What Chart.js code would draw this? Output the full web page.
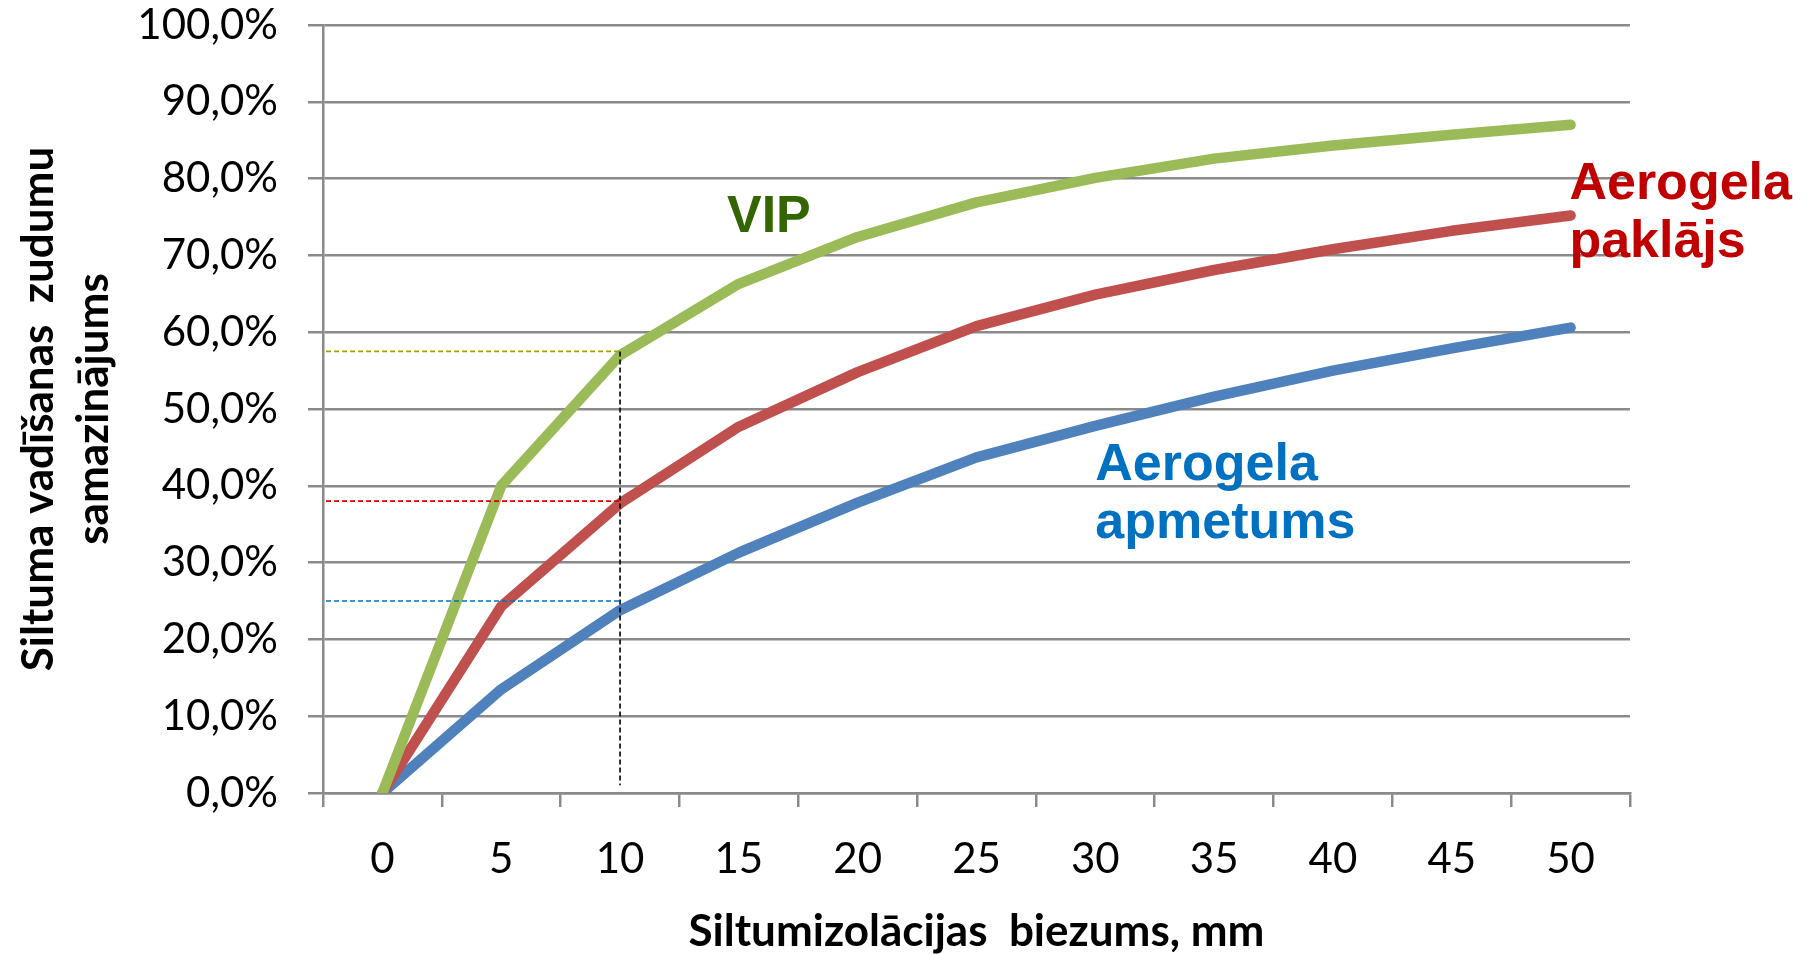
<!DOCTYPE html>
<html>
<head>
<meta charset="utf-8">
<script src="https://cdn.jsdelivr.net/npm/chart.js@4.4.1/dist/chart.umd.min.js"></script>
<style>
  html, body { margin: 0; padding: 0; background: #ffffff; }
  #c { display: block; }
</style>
</head>
<body>
<canvas id="c" width="1814" height="954"></canvas>
<script>
// Insulation thickness, mm
const thickness = ['0', '5', '10', '15', '20', '25', '30', '35', '40', '45', '50'];

// Reduction of heat-conduction losses, %
const vip       = [0, 40.0, 57.0, 66.3, 72.4, 76.9, 80.1, 82.6, 84.3, 85.7, 87.0];
const paklajs   = [0, 24.3, 37.7, 47.7, 54.8, 60.8, 64.9, 68.1, 70.8, 73.2, 75.2];
const apmetums  = [0, 13.5, 23.8, 31.3, 37.8, 43.7, 47.8, 51.6, 55.0, 57.9, 60.6];

// Reference levels marked at 10 mm
const guideCategory = '10';
const guideLevels = [57.5, 38.0, 25.0];
const guideColors = ['#a3a300', '#d80000', '#0070c0'];

const GRID = '#8a8a8a';
const TICK_FONT = { family: 'Lato', size: 42 };
const TITLE_FONT = { family: 'Lato', size: 44, weight: 'bold', lineHeight: 1.0 };

// Series names written beside the curves (x as category index, y in %)
const seriesNotes = [
  { lines: ['VIP'], x: 2.90, y: 73.1, color: '#336600' },
  { lines: ['Aerogela', 'paklājs'], x: 9.99, y: 77.4, color: '#c00000' },
  { lines: ['Aerogela', 'apmetums'], x: 6.0, y: 40.7, color: '#0070c0' }
];

const guidePlugin = {
  id: 'guides',
  afterDatasetsDraw(chart) {
    const { ctx, scales: { x, y } } = chart;
    const gx = x.getPixelForValue(thickness.indexOf(guideCategory));
    ctx.save();
    ctx.lineWidth = 1.6;
    ctx.setLineDash([5, 3]);
    guideLevels.forEach((v, i) => {
      const py = y.getPixelForValue(v);
      ctx.strokeStyle = guideColors[i];
      ctx.beginPath();
      ctx.moveTo(x.left + 3, py);
      ctx.lineTo(gx, py);
      ctx.stroke();
    });
    ctx.strokeStyle = '#000000';
    ctx.beginPath();
    ctx.moveTo(gx, y.getPixelForValue(Math.max(...guideLevels)));
    ctx.lineTo(gx, y.getPixelForValue(1));
    ctx.stroke();
    ctx.restore();
  }
};

const notesPlugin = {
  id: 'notes',
  afterDraw(chart) {
    const { ctx, scales: { x, y } } = chart;
    ctx.save();
    ctx.font = 'bold 52px "Liberation Sans", Arial, sans-serif';
    ctx.textAlign = 'left';
    ctx.textBaseline = 'alphabetic';
    seriesNotes.forEach(n => {
      ctx.fillStyle = n.color;
      const px = x.getPixelForValue(n.x);
      const py = y.getPixelForValue(n.y);
      n.lines.forEach((t, i) => ctx.fillText(t, px, py + i * 58));
    });
    ctx.restore();
  }
};

const lineStyle = {
  borderWidth: 10.5,
  pointRadius: 0,
  pointHoverRadius: 0,
  borderCapStyle: 'round',
  borderJoinStyle: 'round',
  tension: 0,
  fill: false
};

new Chart(document.getElementById('c'), {
  type: 'line',
  data: {
    labels: thickness,
    datasets: [
      { label: 'VIP', data: vip, borderColor: '#9bbb59', ...lineStyle },
      { label: 'Aerogela paklājs', data: paklajs, borderColor: '#c0504d', ...lineStyle },
      { label: 'Aerogela apmetums', data: apmetums, borderColor: '#4f81bd', ...lineStyle }
    ]
  },
  options: {
    responsive: false,
    animation: false,
    devicePixelRatio: 1,
    layout: { padding: { top: 25, right: 184, left: 0, bottom: 0 } },
    plugins: { legend: { display: false }, tooltip: { enabled: false } },
    scales: {
      x: {
        type: 'category',
        offset: true,
        afterFit(scale) {
          scale.height = 161;
          scale.paddingLeft = 0;
          scale.paddingRight = 0;
        },
        grid: {
          offset: true,
          drawOnChartArea: false,
          drawTicks: true,
          tickLength: 14,
          color: GRID,
          lineWidth: 2.5
        },
        border: { display: true, color: GRID, width: 2.5 },
        ticks: { color: '#000000', font: TICK_FONT, padding: 27, maxRotation: 0, autoSkip: false },
        title: {
          display: true,
          text: 'Siltumizolācijas  biezums, mm',
          color: '#000000',
          font: TITLE_FONT,
          padding: { top: 0, bottom: 0 }
        }
      },
      y: {
        min: 0,
        max: 100,
        afterFit(scale) {
          scale.width = 323;
          scale.paddingTop = 0;
          scale.paddingBottom = 0;
        },
        grid: {
          drawTicks: true,
          tickLength: 15,
          color: GRID,
          lineWidth: 2.5
        },
        border: { display: true, color: GRID, width: 2.5 },
        ticks: {
          stepSize: 10,
          color: '#000000',
          font: TICK_FONT,
          padding: 30,
          callback: v => v.toFixed(1).replace('.', ',') + '%'
        },
        title: {
          display: true,
          text: ['Siltuma vadīšanas  zudumu', 'samazinājums'],
          color: '#000000',
          font: { family: 'Lato', size: 44, weight: 'bold', lineHeight: 1.25 },
          padding: { top: 11, bottom: 0 }
        }
      }
    }
  },
  plugins: [guidePlugin, notesPlugin]
});
</script>
</body>
</html>
